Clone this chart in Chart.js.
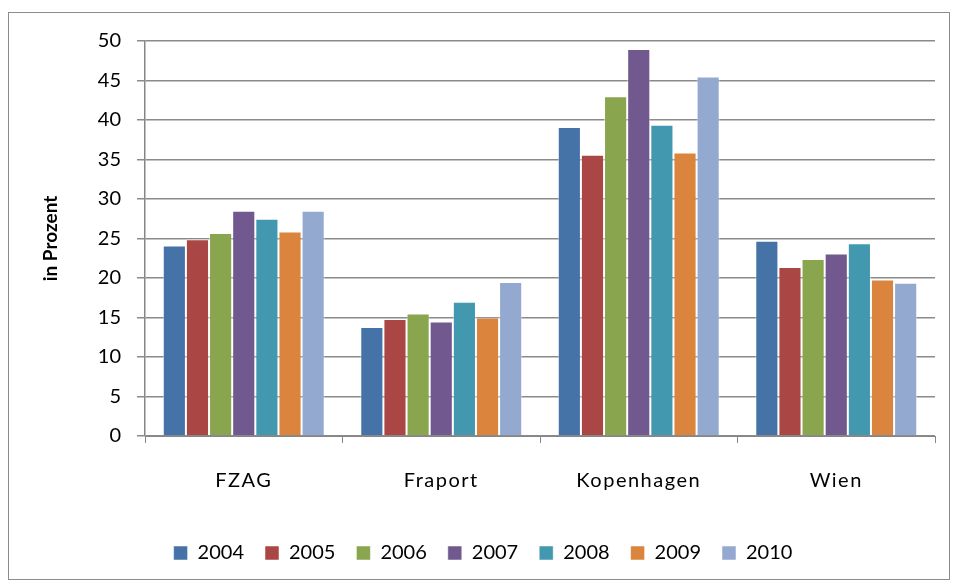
<!DOCTYPE html>
<html lang="de">
<head>
    <meta charset="UTF-8">
    <title>in Prozent</title>
    <script src="https://cdn.jsdelivr.net/npm/chart.js"></script>
    <style>
        body {
            margin: 0;
            background: #ffffff;
        }
        .frame {
            position: absolute;
            left: 8px;
            top: 12px;
            width: 940px;
            height: 566px;
            border: 1px solid #8c8c8c;
        }
    </style>
</head>
<body>
    <div class="frame">
        <canvas id="chart" width="940" height="566"></canvas>
    </div>

    <script>
        const categories = ['FZAG', 'Fraport', 'Kopenhagen', 'Wien'];
        const years = ['2004', '2005', '2006', '2007', '2008', '2009', '2010'];
        const v2004 = [24.1, 13.8, 39.1, 24.7];
        const v2005 = [24.9, 14.8, 35.6, 21.4];
        const v2006 = [25.7, 15.5, 43.0, 22.4];
        const v2007 = [28.5, 14.5, 49.0, 23.1];
        const v2008 = [27.5, 17.0, 39.4, 24.4];
        const v2009 = [25.9, 15.0, 35.9, 19.8];
        const v2010 = [28.5, 19.5, 45.5, 19.4];
        const yTicks = [0, 5, 10, 15, 20, 25, 30, 35, 40, 45, 50];

        const series = [v2004, v2005, v2006, v2007, v2008, v2009, v2010];
        const colors = ['#4572A7', '#AA4643', '#89A54E', '#71588F', '#4198AF', '#DB843D', '#93A9CF'];

        const font = 'Lato, "Liberation Sans", sans-serif';

        const datasets = years.map((y, i) => ({
            label: y,
            data: series[i],
            backgroundColor: colors[i],
            borderColor: 'rgba(255,255,255,0.5)',
            borderWidth: 1,
            barPercentage: 1,
            categoryPercentage: 0.82
        }));

        // category names are spaced out a little in the original
        function spacedLabels(scale) {
            const base = Object.getPrototypeOf(scale).drawLabels;
            scale.drawLabels = function (area) {
                const ctx = this.ctx;
                ctx.save();
                ctx.letterSpacing = '1.5px';
                base.call(this, area);
                ctx.restore();
            };
        }

        new Chart(document.getElementById('chart'), {
            type: 'bar',
            data: { labels: categories, datasets: datasets },
            options: {
                responsive: false,
                animation: false,
                layout: { padding: { left: 22, right: 14, top: 28, bottom: 6 } },
                plugins: {
                    legend: {
                        position: 'bottom',
                        labels: {
                            boxWidth: 14,
                            boxHeight: 14,
                            padding: 21,
                            color: '#000',
                            font: { family: font, size: 20 }
                        }
                    },
                    tooltip: { enabled: false }
                },
                scales: {
                    x: {
                        grid: {
                            offset: true,
                            drawOnChartArea: false,
                            tickLength: 7,
                            color: '#868686'
                        },
                        border: { color: '#868686', width: 1 },
                        ticks: {
                            padding: 26,
                            color: '#000',
                            font: { family: font, size: 20 }
                        },
                        afterFit: s => { s.height = 86; },
                        afterUpdate: spacedLabels
                    },
                    y: {
                        min: 0,
                        max: 50,
                        afterBuildTicks: s => { s.ticks = yTicks.map(v => ({ value: v })); },
                        grid: { color: '#8a8a8a', tickLength: 8, lineWidth: 1.5 },
                        border: { color: '#868686', width: 1.5 },
                        ticks: {
                            padding: 16,
                            color: '#000',
                            font: { family: font, size: 20 }
                        },
                        title: {
                            display: true,
                            text: 'in Prozent',
                            color: '#000',
                            padding: { top: 8, bottom: 0 },
                            font: { family: font, size: 19, weight: 'bold' }
                        },
                        afterFit: s => { s.width = 114; }
                    }
                }
            }
        });
    </script>
</body>
</html>
